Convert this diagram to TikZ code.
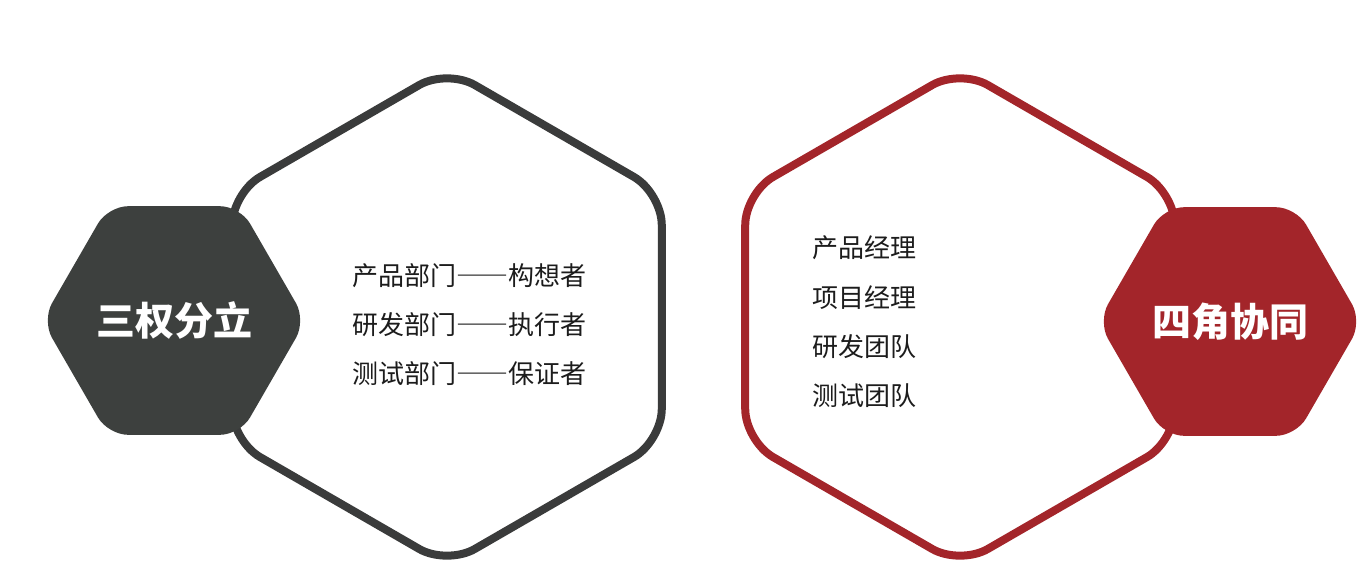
\documentclass[tikz,border=0pt]{standalone}
\usepackage{fontspec}
\newfontfamily\cjk{Noto Sans CJK SC}
\newcommand{\longdash}{{\addfontfeature{CharacterWidth=Full}——}}
\usetikzlibrary{shapes.geometric}
\definecolor{hexgray}{HTML}{3D403E}
\definecolor{linegray}{HTML}{3A3B3B}
\definecolor{hexred}{HTML}{A3252A}
\definecolor{txtblack}{HTML}{1C1C1C}

\begin{document}
\begin{tikzpicture}[x=1pt,y=-1pt,
  bighex/.style={regular polygon,regular polygon sides=6,regular polygon rotate=30,minimum size=496pt,inner sep=0pt,line width=8pt,rounded corners=32pt},
  smallhex/.style={regular polygon,regular polygon sides=6,minimum size=264pt,inner sep=0pt,rounded corners=20pt,text=white,font=\cjk\bfseries\fontsize{39}{39}\selectfont},
  item/.style={anchor=west,inner sep=0pt,text=txtblack,font=\cjk\fontsize{26}{26}\selectfont}]
\useasboundingbox [fill=white] (0,0) rectangle (1368,566);
%Hexagons
\node at (447,317) [bighex,draw=linegray] (LeftHex) {};
\node at (960,317) [bighex,draw=hexred] (RightHex) {};
\node at (174,320.5) [smallhex,fill=hexgray] (LeftTitle) {三权分立};
\node at (1230,321.5) [smallhex,fill=hexred] (RightTitle) {四角协同};
%Left list
\node at (352,276) [item] (DeptA) {产品部门\longdash 构想者};
\node at (352,325) [item] (DeptB) {研发部门\longdash 执行者};
\node at (352,374) [item] (DeptC) {测试部门\longdash 保证者};
%Right list
\node at (812,248) [item] (RoleA) {产品经理};
\node at (812,298) [item] (RoleB) {项目经理};
\node at (812,347) [item] (RoleC) {研发团队};
\node at (812,396) [item] (RoleD) {测试团队};
\end{tikzpicture}
\end{document}
